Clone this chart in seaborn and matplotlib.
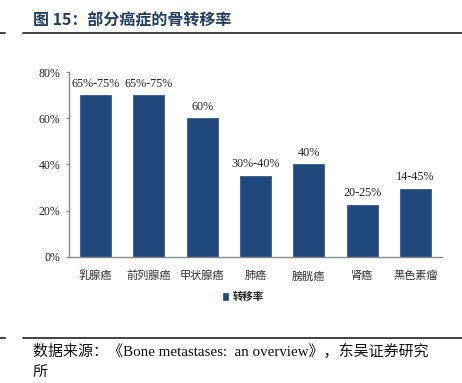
import pandas as pd
import matplotlib
matplotlib.use("Agg")
import matplotlib.pyplot as plt
import seaborn as sns

# 数据
cancers = ["乳腺癌", "前列腺癌", "甲状腺癌", "肺癌", "膀胱癌", "肾癌", "黑色素瘤"]
rates = [70, 70, 60, 35, 40, 22.5, 29.5]
rate_labels = ["65%-75%", "65%-75%", "60%", "30%-40%", "40%", "20-25%", "14-45%"]
y_ticks = [0, 20, 40, 60, 80]
y_tick_labels = ["0%", "20%", "40%", "60%", "80%"]
series_name = "转移率"

title_text = "图 15：部分癌症的骨转移率"
source_text = "数据来源：《Bone metastases:  an overview》，东吴证券研究\n所"

sns.set_theme(style="white")
fam = ["Liberation Serif", "Noto Sans CJK SC", "DejaVu Sans"]
plt.rcParams["font.family"] = fam

bar_color = "#1F497D"
axis_gray = "#898989"

df = pd.DataFrame({"癌症": cancers, "rate": rates, "s": series_name})

fig = plt.figure(figsize=(4.62, 3.83), dpi=100)
ax = fig.add_axes([0.1494, 0.3298, 0.8073, 0.4814])

sns.barplot(data=df, x="癌症", y="rate", hue="s", palette=[bar_color], saturation=1,
            width=0.58, edgecolor="#3a5a85", linewidth=0.6, ax=ax, legend=True)

ax.set_ylim(0, 80)
ax.set_xlim(-0.5, len(cancers) - 0.5)
ax.set_yticks(y_ticks)
ax.set_yticklabels(y_tick_labels, fontsize=8.5, family=fam)
ax.set_xticks(range(len(cancers)))
ax.set_xticklabels(cancers, fontsize=8, family=["Noto Sans CJK SC"], color="#333333")
ax.set_xlabel("")
ax.set_ylabel("")

for s in ["top", "right"]:
    ax.spines[s].set_visible(False)
for s in ["left", "bottom"]:
    ax.spines[s].set_color(axis_gray)
    ax.spines[s].set_linewidth(1.0)

ax.tick_params(axis="y", left=True, length=2.5, width=0.8, color=axis_gray, pad=4, labelcolor="#222222")
ax.tick_params(axis="x", bottom=False, pad=4)

ax.bar_label(ax.containers[0], labels=rate_labels, padding=4, fontsize=8.7,
             family=fam, color="#222222")

leg = ax.legend(loc="center", bbox_to_anchor=(0.526, 0.2245), bbox_transform=fig.transFigure,
                frameon=False, handlelength=0.55, handleheight=0.55, handletextpad=0.4,
                prop={"family": "Noto Sans CJK SC", "size": 7.5, "weight": "bold"})

# 标题与分隔线
fig.text(33 / 462, 1 - 20 / 383, title_text, fontsize=11.5, fontweight="bold",
         color="#243F60", family=["Noto Sans CJK SC"], va="center", ha="left")

line_col = "#333333"
for yy in [33.3, 337.7]:
    yf = 1 - yy / 383
    fig.add_artist(plt.Line2D([0, 5 / 462], [yf, yf], color=line_col, lw=1.3, transform=fig.transFigure))
    fig.add_artist(plt.Line2D([23 / 462, 1], [yf, yf], color=line_col, lw=1.3, transform=fig.transFigure))

fig.text(33 / 462, 1 - 344 / 383, source_text, fontsize=10.8, family=fam,
         color="#111111", va="top", ha="left", linespacing=1.75)

fig.savefig("out.png", dpi=100)
